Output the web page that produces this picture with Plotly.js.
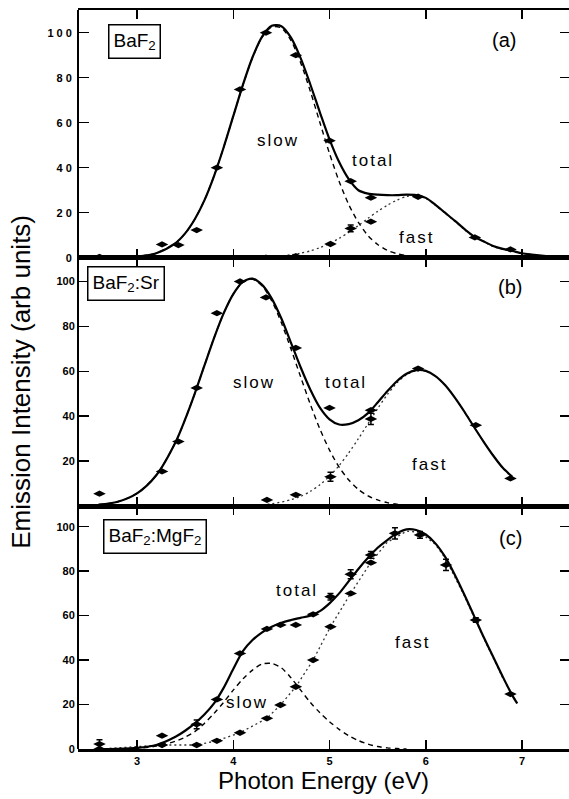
<!DOCTYPE html>
<html>
<head>
<meta charset="utf-8">
<script src="https://cdn.plot.ly/plotly-3.0.1.min.js"></script>
<style>
  html, body { margin: 0; padding: 0; background: #fff; }
  #chart { width: 569px; height: 799px; }
</style>
</head>
<body>
<div id="chart"></div>
<script>
// ---------------- Panel (a): BaF2 ----------------
const aTotalPtsX = [2.61, 3.26, 3.43, 3.62, 3.83, 4.07, 4.34, 4.65, 5.00, 5.22, 5.43, 5.92, 6.51, 6.88];
const aTotalPtsY = [0.4, 5.9, 5.6, 12.3, 40, 74.8, 100, 90, 52, 34, 26.7, 27.1, 9, 3.7];
const aFastPtsX = [4.34, 4.65, 5.01, 5.22, 5.43];
const aFastPtsY = [0, 0.7, 6.1, 13, 16];
const aFastPtsErr = [0, 0, 0, 1.5, 0];

const aTotalX = [2.4,2.6,2.8,3.0,3.2,3.4,3.5,3.6,3.7,3.8,3.9,4.0,4.1,4.2,4.3,4.4,4.5,4.6,4.7,4.8,4.9,5.0,5.1,5.2,5.3,5.4,5.5,5.6,5.7,5.8,5.9,6.0,6.1,6.2,6.3,6.4,6.5,6.6,6.7,6.8,6.9,7.0,7.1,7.2,7.3,7.4,7.5];
const aTotalY = [0,0.02,0.1,0.5,2.0,6.5,10.8,17.1,25.5,36.3,49,62.9,76.8,89.1,98.3,103.1,102.9,97.8,88.7,77.1,64.6,52.6,42.5,34.9,30,28.5,28,27.8,27.8,28,27.8,26.6,23.5,20,16.5,12.8,9.5,7.3,5.2,3.9,3.0,2.0,1.4,0.9,0.5,0.2,0.1];
const aSlowX = [2.4,2.6,2.8,3.0,3.2,3.4,3.5,3.6,3.7,3.8,3.9,4.0,4.1,4.2,4.3,4.4,4.5,4.6,4.7,4.8,4.9,5.0,5.1,5.2,5.3,5.4,5.5,5.6,5.7,5.8,5.9,6.0,6.1,6.2];
const aSlowY = [0,0.02,0.1,0.5,2.0,6.5,10.8,17.1,25.5,36.3,49,62.9,76.7,88.9,98,102.6,102.1,96.5,86.7,74.1,60.1,46.3,33.9,23.6,15.7,9.8,5.9,3.3,1.8,0.9,0.45,0.2,0.08,0.03];
const aFastX = [4.2,4.3,4.4,4.5,4.6,4.7,4.8,4.9,5.0,5.1,5.2,5.3,5.4,5.5,5.6,5.7,5.8,5.9,6.0,6.1,6.2,6.3,6.4,6.5,6.6,6.7,6.8,6.9,7.0,7.1,7.2,7.3,7.4,7.5];
const aFastY = [0.2,0.3,0.5,0.8,1.3,2.0,3.0,4.5,6.3,8.6,11.3,14.3,17.5,20.6,23.3,25.6,27.2,27.5,26.4,23.3,19.8,16.3,12.6,9.3,7.1,5.0,3.7,2.8,1.9,1.3,0.8,0.4,0.2,0.1];

// ---------------- Panel (b): BaF2:Sr ----------------
const bTotalPtsX = [2.61, 3.26, 3.43, 3.62, 3.83, 4.07, 4.34, 4.65, 5.00, 5.43, 5.92, 6.52, 6.88];
const bTotalPtsY = [5.5, 15.4, 28.7, 52.6, 85.9, 100, 92.9, 70.4, 43.7, 42.7, 61.2, 36, 12.3];
const bFastPtsX = [4.35, 4.65, 5.01, 5.43];
const bFastPtsY = [2.7, 5, 13, 38.8];
const bFastPtsErr = [0, 0, 2, 2.5];

const bTotalX = [2.6,2.8,3.0,3.2,3.4,3.5,3.6,3.7,3.8,3.9,4.0,4.1,4.2,4.3,4.4,4.5,4.6,4.7,4.8,4.9,5.0,5.1,5.2,5.3,5.4,5.5,5.6,5.7,5.8,5.9,6.0,6.1,6.2,6.3,6.4,6.5,6.6,6.7,6.8,6.9];
const bTotalY = [0.6,1.9,5.6,13.7,28.4,38.6,50.1,62.5,74.8,85.8,94.4,99.8,101.3,98.5,92.4,83.5,72.7,61.8,51.9,43.8,38.6,36.3,36.5,38.2,41.4,46.1,51.1,55.6,58.9,60.5,60.2,57.9,53.9,48.4,42.1,35.3,28.7,22.5,17.0,13.0];
const bSlowX = [2.6,2.8,3.0,3.2,3.4,3.5,3.6,3.7,3.8,3.9,4.0,4.1,4.2,4.3,4.4,4.5,4.6,4.7,4.8,4.9,5.0,5.1,5.2,5.3,5.4,5.5,5.6,5.7,5.8,5.9,6.0];
const bSlowY = [0.6,1.9,5.6,13.7,28.4,38.6,50.1,62.5,74.8,85.8,94.4,99.7,101,98,91.4,81.6,69.9,57.5,45.4,34.3,24.9,17.3,11.6,7.4,4.5,2.7,1.5,0.8,0.4,0.2,0.1];
const bFastX = [4.2,4.4,4.6,4.7,4.8,4.9,5.0,5.1,5.2,5.3,5.4,5.5,5.6,5.7,5.8,5.9,6.0,6.1,6.2,6.3,6.4,6.5,6.6,6.7,6.8,6.9];
const bFastY = [0.3,1.0,2.8,4.3,6.5,9.5,13.3,18.0,23.7,30.0,36.7,43.4,49.6,54.8,58.5,60.3,60.1,57.9,53.9,48.4,42.1,35.3,28.7,22.5,17.0,12.4];

// ---------------- Panel (c): BaF2:MgF2 ----------------
const cTotalPtsX = [2.61, 3.26, 3.62, 3.83, 4.07, 4.35, 4.49, 4.65, 4.83, 5.01, 5.22, 5.43, 5.68, 5.94, 6.21, 6.52, 6.88];
const cTotalPtsY = [2.2, 6.0, 11.1, 22.3, 43, 54, 55.8, 55.8, 60.6, 68.5, 78.6, 87.3, 97, 96.3, 82.8, 58, 24.7];
const cTotalPtsErr = [2, 0, 2, 0, 0, 0, 0, 0, 0, 1.5, 2, 1.5, 2.5, 1.5, 2.5, 1, 0];
const cFastPtsX = [2.61, 3.26, 3.62, 3.83, 4.07, 4.35, 4.49, 4.65, 4.83, 5.01, 5.22, 5.43];
const cFastPtsY = [0, 1.8, 1.8, 3.7, 7.3, 13.8, 19.8, 28, 40, 55, 70, 83.8];

const cTotalX = [2.6,2.8,3.0,3.2,3.4,3.5,3.6,3.7,3.8,3.9,4.0,4.1,4.2,4.3,4.4,4.5,4.6,4.7,4.8,4.9,5.0,5.1,5.2,5.3,5.4,5.5,5.6,5.7,5.8,5.9,6.0,6.1,6.2,6.3,6.4,6.5,6.6,6.7,6.8,6.9,6.95];
const cTotalY = [0,0.1,0.5,1.8,5.5,8.2,11.5,15.5,20.5,27.5,36,44,49,52.5,55,56.8,58,59,60,62,65.5,70,75.5,81,86,90.5,94,97,98.8,98.5,96.5,92.5,86.5,78.5,69.5,60,50.5,41.5,32.5,24,20.5];
const cSlowX = [2.6,2.8,3.0,3.2,3.4,3.5,3.6,3.7,3.8,3.9,4.0,4.1,4.2,4.3,4.4,4.5,4.6,4.7,4.8,4.9,5.0,5.1,5.2,5.3,5.4,5.5,5.6,5.7,5.8];
const cSlowY = [0,0.05,0.3,1.3,3.5,5.3,7.8,11.5,16,21,26.5,31.5,35.5,38.2,38.5,36.5,32,26.5,21,16.3,12.3,8.8,6,3.8,2.2,1.1,0.5,0.2,0];
const cFastX = [2.61,3.26,3.62,3.83,4.07,4.35,4.49,4.65,4.83,5.01,5.22,5.43,5.6,5.8,5.94,6.1,6.2,6.4,6.6,6.8,6.95];
const cFastY = [0,1.8,1.8,3.7,7.3,13.8,19.8,28,40,55,70,84,93,98,97.5,92,86,69,50,32,20.5];

// ---------------- Ticks / labels ----------------
const xTickVals = [3, 4, 5, 6, 7];
const xTickText = ['3', '4', '5', '6', '7'];
const yTickValsFull = [0, 20, 40, 60, 80, 100];
const yTickTextFull = ['0', '20', '40', '60', '80', '100'];
const yTickValsB = [20, 40, 60, 80, 100];
const yTickTextB = ['20', '40', '60', '80', '100'];
const panelNames = ['BaF<sub>2</sub>', 'BaF<sub>2</sub>:Sr', 'BaF<sub>2</sub>:MgF<sub>2</sub>'];
const panelTags = ['(a)', '(b)', '(c)'];
const curveNames = ['slow', 'total', 'fast'];

const BLACK = '#000';
const FONT = 'Liberation Sans, Arial, Helvetica, sans-serif';

function totalLine(x, y, xa, ya) {
  return {x: x, y: y, xaxis: xa, yaxis: ya, type: 'scatter', mode: 'lines',
    line: {color: BLACK, width: 2.2, shape: 'spline', smoothing: 0.8}, hoverinfo: 'skip'};
}
function slowLine(x, y, xa, ya) {
  return {x: x, y: y, xaxis: xa, yaxis: ya, type: 'scatter', mode: 'lines',
    line: {color: BLACK, width: 1.4, dash: '5px,4px', shape: 'spline', smoothing: 0.8}, hoverinfo: 'skip'};
}
function fastLine(x, y, xa, ya, shape) {
  return {x: x, y: y, xaxis: xa, yaxis: ya, type: 'scatter', mode: 'lines',
    line: {color: '#333', width: 1.3, dash: '2px,3px', shape: shape, smoothing: 0.8}, hoverinfo: 'skip'};
}
function pts(x, y, xa, ya, err) {
  const t = {x: x, y: y, xaxis: xa, yaxis: ya, type: 'scatter', mode: 'markers',
    marker: {symbol: 'diamond-wide', size: 9, color: BLACK}, hoverinfo: 'skip'};
  if (err) t.error_y = {type: 'data', array: err, visible: true, color: BLACK, thickness: 1.5, width: 3};
  return t;
}

const traces = [
  slowLine(aSlowX, aSlowY, 'x', 'y'),
  fastLine(aFastX, aFastY, 'x', 'y', 'spline'),
  totalLine(aTotalX, aTotalY, 'x', 'y'),
  pts(aTotalPtsX, aTotalPtsY, 'x', 'y'),
  pts(aFastPtsX, aFastPtsY, 'x', 'y', aFastPtsErr),

  slowLine(bSlowX, bSlowY, 'x2', 'y2'),
  fastLine(bFastX, bFastY, 'x2', 'y2', 'spline'),
  totalLine(bTotalX, bTotalY, 'x2', 'y2'),
  pts(bTotalPtsX, bTotalPtsY, 'x2', 'y2'),
  pts(bFastPtsX, bFastPtsY, 'x2', 'y2', bFastPtsErr),

  slowLine(cSlowX, cSlowY, 'x3', 'y3'),
  fastLine(cFastX, cFastY, 'x3', 'y3', 'linear'),
  totalLine(cTotalX, cTotalY, 'x3', 'y3'),
  pts(cTotalPtsX, cTotalPtsY, 'x3', 'y3', cTotalPtsErr),
  pts(cFastPtsX, cFastPtsY, 'x3', 'y3'),

  // empty traces so the right-side tick axes are drawn
  {x: [], y: [], xaxis: 'x', yaxis: 'y4', type: 'scatter', mode: 'lines', hoverinfo: 'skip'},
  {x: [], y: [], xaxis: 'x2', yaxis: 'y5', type: 'scatter', mode: 'lines', hoverinfo: 'skip'},
  {x: [], y: [], xaxis: 'x3', yaxis: 'y6', type: 'scatter', mode: 'lines', hoverinfo: 'skip'}
];

const XRANGE = [2.387, 7.488];
function xAxis(anchor, labels) {
  const ax = {
    domain: [0, 1], anchor: anchor, range: XRANGE, tickmode: 'array',
    tickvals: xTickVals, ticktext: xTickText,
    ticks: 'inside', ticklen: 9, tickwidth: 1.5, tickcolor: BLACK,
    mirror: 'ticks', showline: true, linewidth: 2.5, linecolor: BLACK,
    showgrid: false, zeroline: false, showticklabels: labels,
    tickfont: {family: FONT, size: 11, color: BLACK, weight: 'bold'}
  };
  if (labels) {
    ax.title = {text: 'Photon Energy (eV)', font: {family: FONT, size: 24, color: BLACK}, standoff: 6};
  }
  return ax;
}
function yAxis(domain, range, vals, text) {
  return {
    domain: domain, anchor: 'free', position: 0, range: range, tickmode: 'array',
    tickvals: vals, ticktext: text,
    ticks: 'inside', ticklen: 10, tickwidth: 1.5, tickcolor: BLACK,
    showline: true, linewidth: 2, linecolor: BLACK,
    showgrid: false, zeroline: false,
    tickfont: {family: FONT, size: 11, color: BLACK, weight: 'bold'}
  };
}
function yRight(over, range) {
  return {
    overlaying: over, side: 'right', anchor: 'free', position: 1, range: range,
    tickmode: 'array', tickvals: yTickValsB,
    ticks: 'inside', ticklen: 9, tickwidth: 1.5, tickcolor: BLACK,
    showline: false, showgrid: false, zeroline: false, showticklabels: false
  };
}

const RA = [0, 110.1], RB = [0, 110.6], RC = [0, 109.3];
const DA = [0.6648, 1], DB = [0.3288, 0.6648], DC = [0, 0.3288];

const yB = yAxis(DB, RB, yTickValsB, yTickTextB);
yB.title = {text: 'Emission Intensity (arb units)', font: {family: FONT, size: 26, color: BLACK}, standoff: 17};

function lbl(text, x, y, xr, yr, size) {
  return {text: text, x: x, y: y, xref: xr, yref: yr, showarrow: false,
    font: {family: FONT, size: size || 17, color: BLACK}, xanchor: 'center', yanchor: 'middle'};
}
function box(text, x, y, xr, yr) {
  return {text: text, x: x, y: y, xref: xr, yref: yr, showarrow: false,
    font: {family: FONT, size: 19, color: BLACK}, xanchor: 'center', yanchor: 'middle',
    bordercolor: BLACK, borderwidth: 1.5, borderpad: 4, bgcolor: '#fff'};
}

const annotations = [
  box(panelNames[0], 2.974, 95.9, 'x', 'y'),
  lbl(panelTags[0], 6.813, 96.8, 'x', 'y', 20),
  lbl(curveNames[0], 4.475, 52.3, 'x', 'y'),
  lbl(curveNames[1], 5.452, 43.4, 'x', 'y'),
  lbl(curveNames[2], 5.909, 9.2, 'x', 'y'),

  box(panelNames[1], 2.886, 98.9, 'x2', 'y2'),
  lbl(panelTags[1], 6.875, 97.6, 'x2', 'y2', 20),
  lbl(curveNames[0], 4.216, 54.9, 'x2', 'y2'),
  lbl(curveNames[1], 5.171, 54.9, 'x2', 'y2'),
  lbl(curveNames[2], 6.044, 18.4, 'x2', 'y2'),

  box(panelNames[2], 3.187, 95.8, 'x3', 'y3'),
  lbl(panelTags[2], 6.875, 94.9, 'x3', 'y3', 20),
  lbl(curveNames[1], 4.662, 71.5, 'x3', 'y3'),
  lbl(curveNames[2], 5.868, 47.7, 'x3', 'y3'),
  lbl(curveNames[0], 4.153, 20.7, 'x3', 'y3')
];

const layout = {
  width: 569, height: 799,
  margin: {l: 78, r: 0, t: 10, b: 50},
  paper_bgcolor: '#fff', plot_bgcolor: 'rgba(0,0,0,0)',
  showlegend: false,
  font: {family: FONT, color: BLACK},
  xaxis: xAxis('y', false),
  xaxis2: xAxis('y2', false),
  xaxis3: xAxis('y3', true),
  yaxis: yAxis(DA, RA, yTickValsFull, yTickTextFull),
  yaxis2: yB,
  yaxis3: yAxis(DC, RC, yTickValsFull, yTickTextFull),
  yaxis4: yRight('y', RA),
  yaxis5: yRight('y2', RB),
  yaxis6: yRight('y3', RC),
  annotations: annotations
};

Plotly.newPlot('chart', traces, layout, {staticPlot: true, displayModeBar: false}).then(function () {
  document.querySelectorAll('.annotation-text').forEach(function (el) {
    const t = el.textContent;
    if (t === 'slow' || t === 'total' || t === 'fast') el.style.letterSpacing = '2px';
  });
  document.querySelectorAll('.ytick text').forEach(function (el) {
    el.style.letterSpacing = '3px';
  });
  document.querySelectorAll('.xtick text').forEach(function (el) {
    el.style.letterSpacing = '1px';
  });
  document.querySelectorAll('.ytitle').forEach(function (el) {
    el.style.wordSpacing = '7px';
  });
  document.querySelectorAll('.xtitle').forEach(function (el) {
    el.style.wordSpacing = '6px';
  });
  // drop empty placeholder title elements
  document.querySelectorAll('#chart text').forEach(function (el) {
    if (!el.textContent.trim()) el.remove();
  });
});
</script>
</body>
</html>
